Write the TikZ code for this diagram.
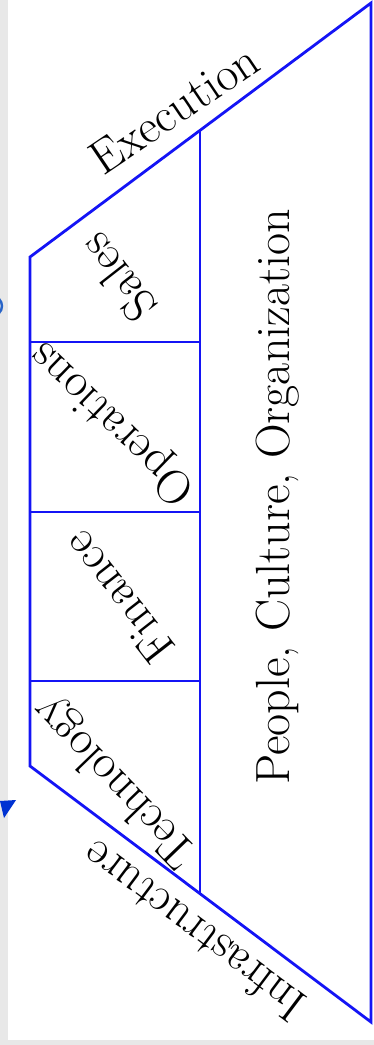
\documentclass[tikz,border=0pt]{standalone}
\definecolor{lineblue}{RGB}{20,20,245}
\definecolor{sidegray}{RGB}{232,232,232}
\definecolor{markblue}{RGB}{0,50,210}
\definecolor{ringblue}{RGB}{40,100,200}
\begin{document}
\begin{tikzpicture}[x=0.5pt,y=-0.5pt]
\tikzset{frame/.style={draw=lineblue,line width=1.4pt},
  word/.style={font=\fontsize{24}{28}\selectfont}}
\fill[sidegray] (0,0) rectangle (374,1045);
\fill[white] (8,0) rectangle (374,1040);
\useasboundingbox (0,0) rectangle (374,1045);
\draw[ringblue,line width=1.2pt] (-8,306) circle[radius=10];
\fill[markblue] (0,801) -- (16,800) -- (4,818) -- cycle;
\coordinate (tip) at (371,3);
\coordinate (foot) at (371,1022);
\coordinate (tl) at (30,257);
\coordinate (bl) at (30,766);
\coordinate (it) at (200,130);
\coordinate (ib) at (200,893);
\path[frame] (tl) -- (tip) -- (foot) -- (bl) -- cycle;
\path[frame] (it) -- (ib);
\foreach \y in {342,512,681}
  \path[frame] (30,\y) -- (200,\y);
\node[word,rotate=34] (exec) at (174,109) {Execution};
\node[word,rotate=128] (sales) at (117,278) {Sales};
\node[word,rotate=136] (ops) at (113,423) {Operations};
\node[word,rotate=128] (fin) at (118,598) {Finance};
\node[word,rotate=134] (tech) at (116,781) {Technology};
\node[word,rotate=90] (people) at (278,497) {People, Culture, Organization};
\node[word,rotate=143] (infra) at (193,932) {Infrastructure};
\end{tikzpicture}
\end{document}
